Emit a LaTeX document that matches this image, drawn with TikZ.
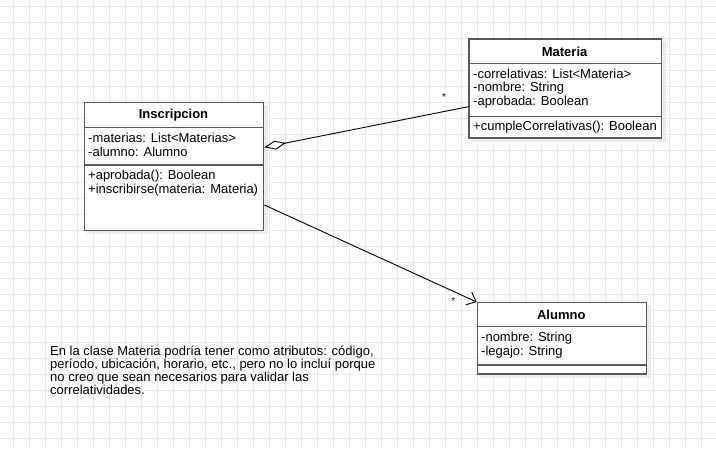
\documentclass[tikz,border=0pt]{standalone}
\usepackage{fontspec}
\setmainfont{Liberation Sans}
\usetikzlibrary{arrows.meta}
\definecolor{gridc}{RGB}{232,232,232}
\definecolor{boxc}{RGB}{90,90,90}
\definecolor{shadowc}{RGB}{236,236,236}
\tikzset{
  umlbox/.style={draw=boxc, line width=1.4pt, fill=white, rectangle, inner sep=0pt, anchor=north west},
  sep/.style={draw=boxc, line width=1.4pt},
  titletext/.style={font=\fontsize{13}{14}\selectfont\bfseries, inner sep=0pt},
  membertext/.style={font=\fontsize{13}{14}\selectfont, anchor=west, inner sep=0pt},
  conn/.style={draw=black, line width=0.9pt},
  mult/.style={font=\fontsize{10}{12}\selectfont, inner sep=0pt},
}
\begin{document}
\begin{tikzpicture}[x=1pt,y=-1pt]
\useasboundingbox (0,0) rectangle (716,448);
\fill[white] (0,0) rectangle (716,448);
% grid
\foreach \k in {0,...,43} {\draw[gridc, line width=0.8pt] ({13.3+16*\k},0) -- ({13.3+16*\k},448);}
\foreach \k in {0,...,27} {\draw[gridc, line width=0.8pt] (0,{6+16*\k}) -- (716,{6+16*\k});}
% shadows
\fill[shadowc] (87,105) rectangle (268,234);
\fill[shadowc] (471,41) rectangle (666,142);
\fill[shadowc] (480,305) rectangle (651,378);
% Inscripcion
\node[umlbox, minimum width=179pt, minimum height=127.5pt] (insc) at (84,102) {};
\draw[sep] (84,127.3) -- (263,127.3);
\draw[sep] (84,165) -- (263,165);
\node[titletext] (insct) at (173.5,115) {Inscripcion};
\node[membertext] (insca1) at (88,138) {-materias: List<Materias>};
\node[membertext] (insca2) at (88,152) {-alumno: Alumno};
\node[membertext] (inscm1) at (88,176) {+aprobada(): Boolean};
\node[membertext] (inscm2) at (88,190) {+inscribirse(materia: Materia)};
% Materia
\node[umlbox, minimum width=192.7pt, minimum height=99pt] (mat) at (468.3,38.3) {};
\draw[sep] (468.3,63.3) -- (661,63.3);
\draw[sep] (468.3,116.7) -- (661,116.7);
\node[titletext] (matt) at (564.6,51.5) {Materia};
\node[membertext] (mata1) at (473,74) {-correlativas: List<Materia>};
\node[membertext] (mata2) at (473,88) {-nombre: String};
\node[membertext] (mata3) at (473,102.5) {-aprobada: Boolean};
\node[membertext] (matm1) at (473,127) {+cumpleCorrelativas(): Boolean};
% Alumno
\node[umlbox, minimum width=169.3pt, minimum height=71.3pt] (alu) at (476.7,302) {};
\draw[sep] (476.7,326.7) -- (646,326.7);
\draw[sep] (476.7,365) -- (646,365);
\node[titletext] (alut) at (561.3,314.5) {Alumno};
\node[membertext] (alua1) at (481,338) {-nombre: String};
\node[membertext] (alua2) at (481,352) {-legajo: String};
% connectors
\coordinate (aggS) at (insc.east |- 0,147.3);
\coordinate (aggE) at (mat.west |- 0,106.7);
\draw[conn, {Diamond[open, length=22pt, width=9pt, line width=0.9pt]}-] (aggS) -- (aggE);
\coordinate (asS) at (insc.east |- 0,205);
\coordinate (asE) at (alu.north west);
\draw[conn, -{Straight Barb[length=8pt, width=14pt, line width=0.9pt]}] (asS) -- (asE);
\node[mult] (m1) at (444,97) {*};
\node[mult] (m2) at (453.3,301) {*};
% note
\node[anchor=north west, inner sep=0pt, align=left, font=\fontsize{13}{12.8}\selectfont] (note) at (50,346)
{En la clase Materia podría tener como atributos: código,\\
período, ubicación, horario, etc., pero no lo incluí porque\\
no creo que sean necesarios para validar las\\
correlatividades.};
\end{tikzpicture}
\end{document}
